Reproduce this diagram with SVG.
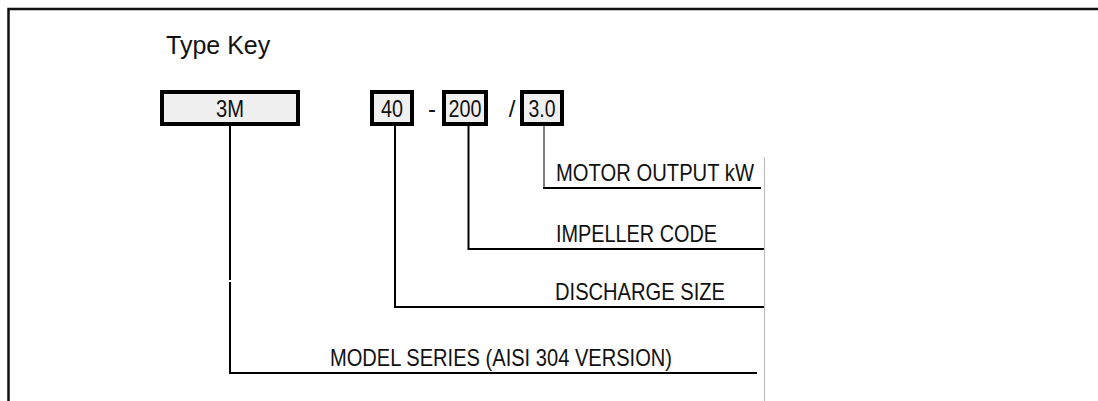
<svg xmlns="http://www.w3.org/2000/svg" width="1098" height="401" viewBox="0 0 1098 401">
<style>
.frame{fill:none;stroke:#111;stroke-width:2.5}
.box{fill:#f0f0f0;stroke:#000;stroke-width:4}
.n{font-family:"Liberation Sans Narrow","Arial Narrow","Liberation Sans",Arial,sans-serif;font-size:24px;fill:#111}
.mid{text-anchor:middle}
.title{font-family:"Liberation Sans",Arial,sans-serif;font-size:25px;fill:#111}
.wire{fill:none;stroke:#000;stroke-width:2}
.thin{fill:none;stroke:#000;stroke-width:1}
.grey{fill:none;stroke:#c0c0c0;stroke-width:1.2}
</style>
<rect width="1098" height="401" fill="#fff"/>
<path class="frame" d="M8.5 401 V9 H1098"/>
<g id="title"><text class="title" x="166" y="54">Type Key</text></g>
<g id="node-3m"><rect class="box" x="162" y="92" width="136" height="32"/><text class="n mid" x="230" y="117" textLength="28" lengthAdjust="spacingAndGlyphs">3M</text></g>
<g id="node-40"><rect class="box" x="372" y="92" width="40" height="32"/><text class="n mid" x="392" y="117" textLength="22" lengthAdjust="spacingAndGlyphs">40</text></g>
<g id="sep-dash"><text class="n mid" x="432" y="117">-</text></g>
<g id="node-200"><rect class="box" x="444" y="92" width="42" height="32"/><text class="n mid" x="465" y="117" textLength="33" lengthAdjust="spacingAndGlyphs">200</text></g>
<g id="sep-slash"><text class="n mid" x="512" y="117">/</text></g>
<g id="node-30"><rect class="box" x="522" y="92" width="40" height="32"/><text class="n mid" x="542" y="117" textLength="27" lengthAdjust="spacingAndGlyphs">3.0</text></g>
<g id="label-motor"><text class="n" x="556" y="181" textLength="198" lengthAdjust="spacingAndGlyphs">MOTOR OUTPUT kW</text></g>
<g id="label-impeller"><text class="n" x="556" y="242" textLength="161" lengthAdjust="spacingAndGlyphs">IMPELLER CODE</text></g>
<g id="label-discharge"><text class="n" x="555" y="300" textLength="170" lengthAdjust="spacingAndGlyphs">DISCHARGE SIZE</text></g>
<g id="label-model"><text class="n" x="330" y="366" textLength="342" lengthAdjust="spacingAndGlyphs">MODEL SERIES (AISI 304 VERSION)</text></g>
<g id="connectors">
<path class="wire" d="M230 126 V280 M230 282 V373 H757"/>
<path class="wire" d="M395 126 V307 H765"/>
<path class="wire" d="M468.5 126 V249 H765"/>
<path class="thin" d="M544 126 V187"/>
<path class="wire" d="M543 188 H761"/>
<path class="grey" d="M764.5 157 V401"/>
</g>
</svg>
